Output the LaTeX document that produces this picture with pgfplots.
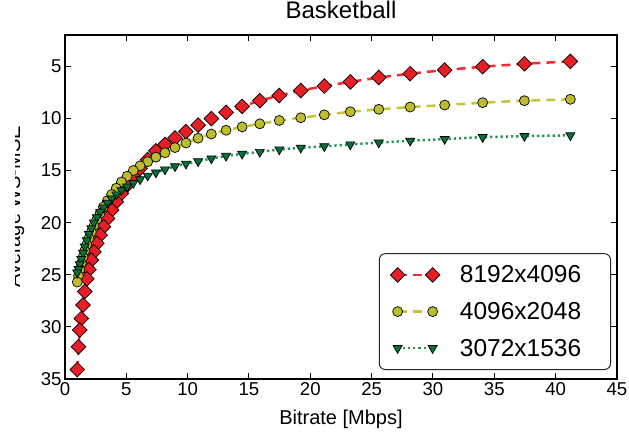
\documentclass[border=0pt]{standalone}
\usepackage{pgfplots}
\usepackage{pgfplotstable}
\pgfplotsset{compat=1.18}
\usepackage{fontspec}
\setmainfont{Liberation Sans}
\definecolor{redfill}{RGB}{232,30,38}
\definecolor{redline}{RGB}{238,45,55}
\definecolor{yelfill}{RGB}{188,188,45}
\definecolor{yelline}{RGB}{196,196,55}
\definecolor{grnfill}{RGB}{8,112,58}
\definecolor{grnline}{RGB}{35,145,85}
\pgfplotstableread{
x r y g
41.20 4.53 8.17 11.63
37.45 4.76 8.30 11.70
34.05 5.04 8.49 11.80
30.95 5.36 8.72 11.98
28.14 5.71 8.91 12.15
25.58 6.08 9.13 12.32
23.26 6.50 9.36 12.50
21.14 6.90 9.66 12.68
19.22 7.33 9.94 12.82
17.47 7.80 10.20 12.98
15.88 8.30 10.52 13.22
14.44 8.85 10.82 13.40
13.13 9.42 11.14 13.60
11.93 10.02 11.50 13.85
10.85 10.65 11.90 14.12
9.86 11.27 12.36 14.35
8.97 11.88 12.80 14.60
8.15 12.50 13.30 14.90
7.41 13.12 13.72 15.20
6.74 13.95 14.15 15.50
6.12 14.80 14.55 15.85
5.57 15.60 15.00 16.20
5.06 16.40 15.55 16.55
4.60 17.20 16.10 16.90
4.18 18.00 16.70 17.30
3.80 18.80 17.30 17.70
3.46 19.60 17.90 18.10
3.14 20.40 18.50 18.55
2.86 21.20 19.10 19.00
2.60 22.00 19.70 19.50
2.36 22.80 20.30 20.00
2.15 23.60 20.90 20.55
1.95 24.50 21.50 21.10
1.78 25.40 22.10 21.70
1.61 26.60 22.70 22.30
1.47 27.90 23.30 22.90
1.33 29.20 23.90 23.50
1.21 30.30 24.50 24.00
1.10 31.90 25.10 24.45
1.00 34.10 25.70 24.80
}\data
\begin{document}
\begin{tikzpicture}
\path[use as bounding box] (-65pt,-56pt) rectangle (564pt,379pt);
\begin{axis}[
  scale only axis, width=552pt, height=344pt,
  xmin=0, xmax=45, ymin=2, ymax=35, y dir=reverse,
  xtick={0,5,...,45}, ytick={5,10,...,35},
  tick align=inside, tick pos=both, major tick length=6pt,
  tick style={black, line width=1pt},
  axis line style={black, line width=1.2pt},
  /pgf/number format/assume math mode=true,
  ticklabel style={font=\fontsize{18.6}{21}\selectfont},
  title={Basketball},
  title style={font=\fontsize{24}{28}\selectfont, at={(axis description cs:0.5,1)}, anchor=base, yshift=10pt},
  xlabel={Bitrate [Mbps]},
  xlabel style={font=\fontsize{20}{24}\selectfont, at={(axis description cs:0.5,0)}, anchor=base, yshift=-45pt},
  ylabel={Average WS-MSE},
  ylabel style={font=\fontsize{20}{24}\selectfont, at={(axis description cs:-0.0815,0.5)}, anchor=base},
  legend cell align=left,
  legend image code/.code={\draw[sharp corners,#1] plot coordinates {(0pt,0pt) (35pt,0pt)};},
  legend style={at={(axis description cs:1,0)}, anchor=south east, xshift=-6pt, yshift=9pt,
    draw=black!85, line width=1pt, rounded corners=6pt, fill=white,
    inner xsep=11pt, inner ysep=10pt, row sep=14pt, column sep=18pt,
    font=\fontsize{24.5}{28}\selectfont},
]
\addplot[color=redline, line width=2.5pt, dash pattern=on 9pt off 6pt,
  mark=square*, mark size=5.2pt,
  mark options={solid, sharp corners, rotate=45, fill=redfill, draw=black, line width=0.7pt}]
  table[x=x,y=r]{\data};
\addlegendentry{\makebox[137.5pt][l]{8192x4096}}
\addplot[color=yelline, line width=2.5pt, dash pattern=on 9pt off 6pt,
  mark=*, mark size=5pt,
  mark options={solid, sharp corners, fill=yelfill, draw=black, line width=0.7pt}]
  table[x=x,y=y]{\data};
\addlegendentry{\makebox[137.5pt][l]{4096x2048}}
\addplot[color=grnline, line width=2.5pt, dash pattern=on 2.2pt off 3pt,
  mark=triangle*, mark size=5.2pt,
  mark options={solid, sharp corners, rotate=180, fill=grnfill, draw=black, line width=0.7pt}]
  table[x=x,y=g]{\data};
\addlegendentry{\makebox[137.5pt][l]{3072x1536}}
\end{axis}
\fill[white] (-66pt,-57pt) rectangle (-50pt,380pt);
\end{tikzpicture}
\end{document}
